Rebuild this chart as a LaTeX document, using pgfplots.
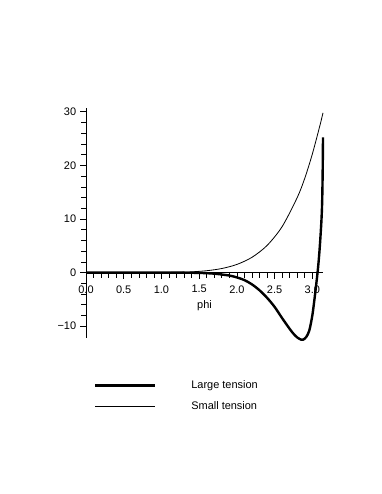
\documentclass[border=0pt]{standalone}
\usepackage{fontspec}
\setmainfont{Liberation Sans}
\usepackage{pgfplots}
\pgfplotsset{compat=1.18}
\begin{document}
\fontsize{11}{13}\selectfont
\begin{tikzpicture}
\path[use as bounding box] (0,0) rectangle (382bp,494bp);
\begin{axis}[
  at={(86bp,156bp)}, anchor=south west,
  scale only axis, width=237bp, height=230bp,
  xmin=0, xmax=3.1416, ymin=-12.2, ymax=30.7,
  clip=false,
  axis lines=middle,
  axis line style={-, line width=0.6pt},
  hide obscured x ticks=false, hide obscured y ticks=false,
  xtick={0,0.5,1,1.5,2,2.5,3},
  xticklabels={0.0,0.5,1.0,1.5,2.0,2.5,3.0},
  ytick={-10,0,10,20,30},
  yticklabels={−10,0,10,20,30},
  minor x tick num=4, minor y tick num=4,
  tick align=outside, major tick length=6bp, minor tick length=5bp,
  tick style={black, line width=0.6pt},
  xticklabel style={yshift=-3bp},
  xlabel={phi},
  xlabel style={at={(axis description cs:0.5,0.139)}, anchor=center},
  /pgf/number format/assume math mode=true,
  ticklabel style={font=\fontsize{11}{13}\selectfont},
  legend style={draw=none, fill=none, at={(axis description cs:0.02,-0.252)}, anchor=west,
    row sep=7bp, column sep=33bp, font=\fontsize{11}{13}\selectfont},
  legend cell align=left,
  legend image code/.code={\draw[#1] (0bp,0bp) -- (60bp,0bp);},
]
\addplot[black, line width=2.4bp, smooth] coordinates {
(0,0) (1.0,0) (1.3,-0.02) (1.5,-0.06) (1.7,-0.2) (1.9,-0.55) (2.0,-0.9)
(2.1,-1.4) (2.2,-2.2) (2.3,-3.3) (2.4,-4.7) (2.5,-6.4) (2.6,-8.5) (2.7,-10.5)
(2.75,-11.4) (2.8,-12.1) (2.85,-12.5) (2.88,-12.5) (2.92,-12.0) (2.96,-10.8)
(3.0,-8.0) (3.03,-4.8) (3.06,-1.2) (3.08,1.5) (3.10,5.0) (3.12,9.5)
(3.13,13.0) (3.137,18.5) (3.1416,25.2)
};
\addlegendentry{Large tension}
\addplot[black, line width=0.8bp, smooth] coordinates {
(0,0) (0.8,0.0) (1.0,0.016) (1.2,0.052) (1.4,0.144) (1.6,0.35) (1.8,0.76)
(2.0,1.52) (2.2,2.85) (2.4,5.06) (2.6,8.58) (2.8,14.0) (2.9,17.6)
(3.0,22.1) (3.1,27.4) (3.1416,29.8)
};
\addlegendentry{Small tension}
\end{axis}
\end{tikzpicture}
\end{document}
